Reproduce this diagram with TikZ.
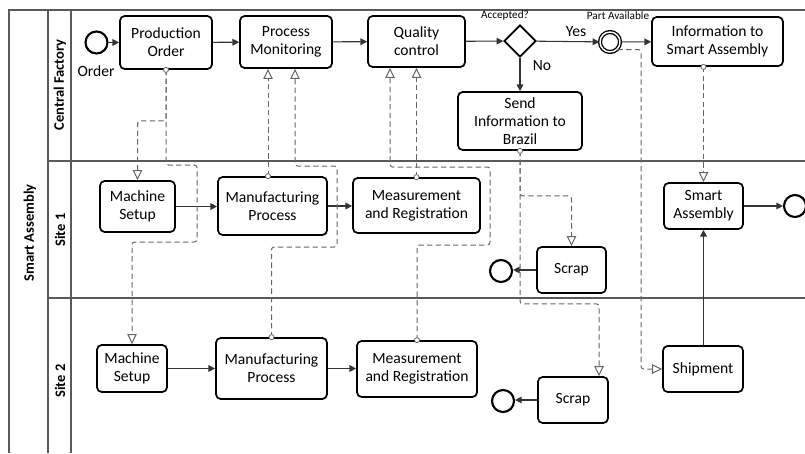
\documentclass[tikz,border=0pt]{standalone}
\usepackage{fontspec}
\setmainfont{Carlito}
\usetikzlibrary{arrows.meta,shapes.geometric}
\begin{document}
\begin{tikzpicture}[x=0.75pt,y=-0.75pt,
  task/.style={draw=black,line width=1.3pt,rounded corners=3.5pt,align=center,
    font=\fontsize{11.7}{13.5}\selectfont,inner sep=0pt,fill=white},
  sz/.style 2 args={minimum width={#1*0.75pt},minimum height={#2*0.75pt}},
  ev/.style={circle,draw=black,line width=1.6pt,minimum size=16.5pt,inner sep=0pt,fill=white},
  seq/.style={draw=black!80,line width=0.8pt,-{Triangle[length=5pt,width=5pt]}},
  msg/.style={draw=black!60,line width=0.75pt,dash pattern=on 4pt off 2.5pt,rounded corners=2pt,
    -{Triangle[open,length=7.5pt,width=7pt,fill=white]}},
  src/.style={fill=white,draw=black!60,line width=0.6pt},
  lane/.style={draw=black!65,line width=1.1pt},
  lbl/.style={font=\fontsize{11.7}{13.5}\selectfont,inner sep=0pt},
  small/.style={font=\fontsize{8.4}{9}\selectfont,inner sep=0pt},
  title/.style={font=\bfseries\fontsize{10.9}{12}\selectfont,rotate=90,inner sep=0pt}
]
\useasboundingbox (0,0) rectangle (805,453);
% frame
\draw[lane] (805,10) -- (9,10) -- (9,453);
\draw[lane] (48,10) -- (48,453);
\draw[lane] (71,10) -- (71,453);
\draw[lane] (48,161) -- (805,161);
\draw[lane] (48,298) -- (805,298);
\node[title] (pool) at (30,233) {Smart Assembly};
\node[title] (lane1) at (60,85) {Central Factory};
\node[title] (lane2) at (60,230) {Site 1};
\node[title] (lane3) at (60,381) {Site 2};

% helper coordinates
\coordinate (x268) at (268,0);
\coordinate (x295) at (295,0);
\coordinate (x390) at (390,0);
\coordinate (x599) at (599,0);
\coordinate (x641) at (641,0);
\coordinate (y242) at (0,242);

% central factory
\node[ev] (start) at (96.5,42.5) {};
\node[lbl] (orderlbl) at (96,71) {Order};
\node[task,sz={92}{53}] (po) at (166,42.5) {Production\\Order};
\node[task,sz={92}{52}] (pm) at (286,42) {Process\\Monitoring};
\node[task,sz={97}{51}] (qc) at (416.5,41.5) {Quality\\control};
\node[diamond,draw=black,line width=1.3pt,fill=white,minimum size=24pt,inner sep=0pt,aspect=1] (gw) at (520,41) {};
\node[small] (acc) at (505,16) {Accepted?};
\node[circle,draw=black,line width=1pt,double,double distance=1.1pt,minimum size=15pt,inner sep=0pt,fill=white] (pa) at (610,42) {};
\node[small] (palbl) at (618,16) {Part Available};
\node[task,sz={131}{49}] (info) at (717.5,41.5) {Information to\\Smart Assembly};
\node[task,sz={124}{58}] (brazil) at (520,121) {Send\\Information to\\Brazil};
\node[lbl] (yes) at (576,32) {Yes};
\node[lbl] (no) at (542,66) {No};

% site 1
\node[task,sz={75}{51}] (ms1) at (137.5,206.5) {Machine\\Setup};
\node[task,sz={109}{58}] (mp1) at (272.5,206) {Manufacturing\\Process};
\node[task,sz={127}{55}] (mr1) at (416.5,205.5) {Measurement\\and Registration};
\node[task,sz={79}{46}] (sa) at (703.5,206) {Smart\\Assembly};
\node[ev] (end1) at (795,206) {};
\node[task,sz={69}{46}] (scrap1) at (571.5,270) {Scrap};
\node[ev] (endS1) at (501,271) {};

% site 2
\node[task,sz={70}{47}] (ms2) at (132,368.5) {Machine\\Setup};
\node[task,sz={111}{61}] (mp2) at (271.5,368.5) {Manufacturing\\Process};
\node[task,sz={120}{56}] (mr2) at (417,369) {Measurement\\and Registration};
\node[task,sz={70}{46}] (scrap2) at (573,400) {Scrap};
\node[ev] (endS2) at (503,401) {};
\node[task,sz={80}{46}] (ship) at (703,369) {Shipment};

% sequence flows
\draw[seq] (start) -- (po);
\draw[seq] (po) -- (pm);
\draw[seq] (pm) -- (qc);
\draw[seq] (qc) -- (gw);
\draw[seq] (gw) -- (pa);
\draw[seq] (pa) -- (info);
\draw[seq] (gw) -- (brazil);
\draw[seq] (ms1.east) -- (ms1.east -| mp1.west);
\draw[seq] (mp1.east) -- (mp1.east -| mr1.west);
\draw[seq] (sa.east) -- (sa.east -| end1.west);
\draw[seq] (scrap1.west) -- (scrap1.west -| endS1.east);
\draw[seq] (ms2.east) -- (ms2.east -| mp2.west);
\draw[seq] (mp2.east) -- (mp2.east -| mr2.west);
\draw[seq] (scrap2.west) -- (scrap2.west -| endS2.east);
\draw[seq] (ship.north -| sa.south) -- (sa.south);

% message flows
\draw[msg] (po.south) -- ++(0,51) -| (ms1.north);
\draw[msg] (po.south) |- (197,165) |- (ms2.north |- y242) -- (ms2.north);
\draw[msg] (x268 |- mp1.north) -- (x268 |- pm.south);
\draw[msg] (mp2.north) |- (337,247) |- (295,166) -- (x295 |- pm.south);
\draw[msg] (mr1.north) -- (mr1.north |- qc.south);
\draw[msg] (mr2.north) |- (490,245) |- (390,167) -- (x390 |- qc.south);
\draw[msg] (brazil.south) -- ++(0,45) -| (scrap1.north);
\draw[msg] (brazil.south) -- ++(0,153) -| (x599 |- scrap2.north);
\draw[msg] (pa.-45) -| (x641 |- ship.west) -- (ship.west);
\draw[msg] (sa.north |- info.south) -- (sa.north);

% message sources
\filldraw[src] (po.south) circle (1.9pt);
\filldraw[src] (x268 |- mp1.north) circle (1.9pt);
\filldraw[src] (mp2.north) circle (1.9pt);
\filldraw[src] (mr1.north) circle (1.9pt);
\filldraw[src] (mr2.north) circle (1.9pt);
\filldraw[src] (brazil.south) circle (1.9pt);
\filldraw[src] (sa.north |- info.south) circle (1.9pt);
\end{tikzpicture}
\end{document}
